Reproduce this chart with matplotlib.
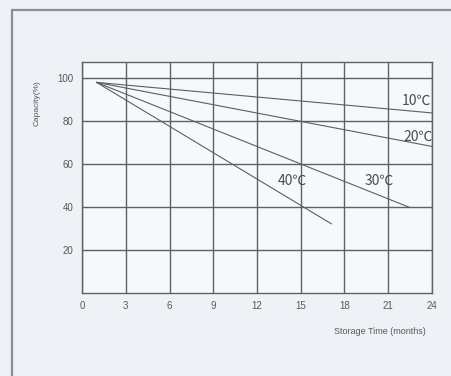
import matplotlib
matplotlib.use("Agg")
import matplotlib.pyplot as plt
from matplotlib.patches import Rectangle

plt.rcParams['font.family'] = ['Liberation Sans', 'DejaVu Sans']

# storage curves: (months, capacity %)
temps = ['10℃', '20℃', '30℃', '40℃']
months_10 = [1, 24]
cap_10 = [98, 83.8]
months_20 = [1, 24]
cap_20 = [98, 68.2]
months_30 = [1, 22.4]
cap_30 = [98, 40]
months_40 = [1, 17.1]
cap_40 = [98, 32.2]

# label anchor positions (data units)
label_x = [22.95, 23.05, 20.4, 14.4]
label_y = [89.5, 72.5, 52, 52]

x_ticks = [0, 3, 6, 9, 12, 15, 18, 21, 24]
y_ticks = [20, 40, 60, 80, 100]

fig = plt.figure(figsize=(4.51, 3.76), dpi=100, facecolor='#eef2f7')

# outer frame
fig.patches.append(Rectangle((12 / 451, -0.05), 1.1, (376 - 10) / 376 + 0.05,
                             transform=fig.transFigure, fill=False,
                             edgecolor='#8a8d92', linewidth=1.6))

ax = fig.add_axes([82 / 451, 1 - 293 / 376, 350 / 451, 231 / 376])
ax.set_facecolor('#f6f8fb')

grid_c = '#5f6165'
for x in x_ticks:
    ax.axvline(x, color=grid_c, lw=1.0, zorder=1)
for y in y_ticks:
    ax.axhline(y, color=grid_c, lw=1.0, zorder=1)

line_c = '#5c5e62'
for xs, ys in [(months_10, cap_10), (months_20, cap_20),
               (months_30, cap_30), (months_40, cap_40)]:
    ax.plot(xs, ys, color=line_c, lw=0.8, zorder=2)

for t, lx, ly in zip(temps, label_x, label_y):
    ax.text(lx, ly, t, fontsize=10, color='#4a4c50', ha='center', va='center',
            family=['Noto Sans CJK SC', 'DejaVu Sans'], zorder=3)

ax.set_xlim(0, 24)
ax.set_ylim(0, 107.5)
ax.set_xticks(x_ticks)
ax.set_yticks(y_ticks)
ax.tick_params(length=0, labelsize=7, labelcolor='#55575b', pad=6)
for s in ax.spines.values():
    s.set_color(grid_c)
    s.set_linewidth(1.0)

fig.text(37 / 451, 1 - 103 / 376, 'Capacity(%)', rotation=90, fontsize=6,
         color='#55575b', ha='center', va='center')
fig.text(380 / 451, 1 - 331 / 376, 'Storage Time (months)', fontsize=6.5,
         color='#55575b', ha='center', va='center')

fig.savefig('out.png', dpi=100, facecolor=fig.get_facecolor())
